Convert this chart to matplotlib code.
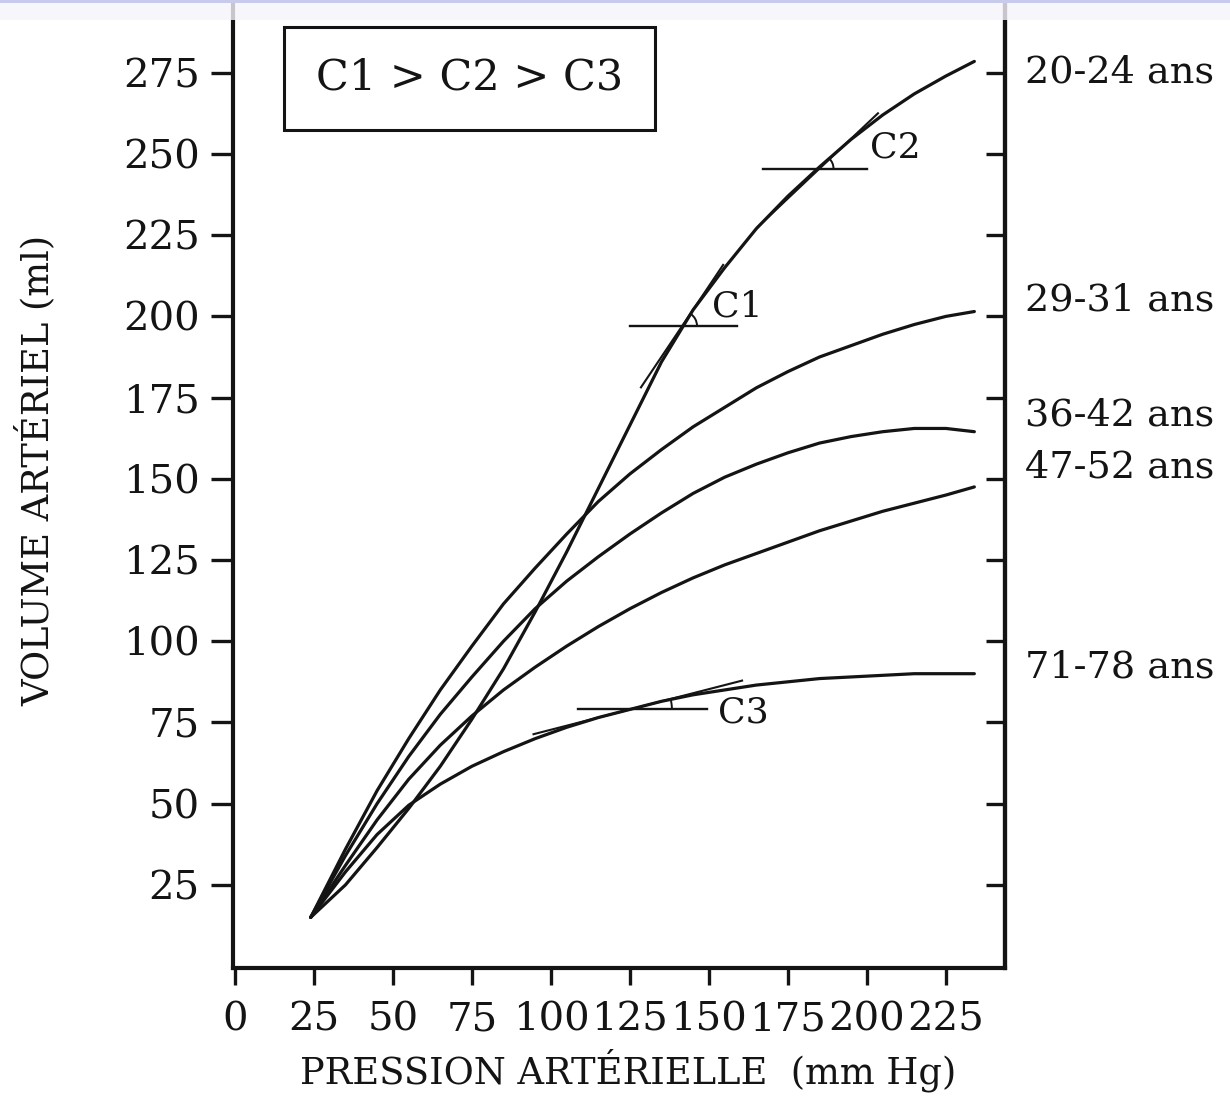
import numpy as np
import matplotlib
matplotlib.use('Agg')
import matplotlib.pyplot as plt
from matplotlib.patches import Arc, Rectangle

plt.rcParams['font.family'] = 'DejaVu Serif'

# pression (mm Hg) and volume (ml) for each age group
pression = [24, 35, 45, 55, 65, 75, 85, 95, 105, 115, 125, 135, 145, 155, 165, 175, 185, 195, 205, 215, 225, 234]
v_20_24 = [15, 25, 36.5, 48.5, 61.5, 76, 91.5, 109, 127.5, 147, 166.5, 186, 202, 215, 227, 237, 246, 254.5, 262, 268.5, 274, 278.5]
v_29_31 = [15, 36, 54, 70, 85, 98.5, 111.5, 122.5, 133, 143, 151.5, 159, 166, 172, 178, 183, 187.5, 191, 194.5, 197.5, 200, 201.5]
v_36_42 = [15, 34, 50, 64.5, 77.5, 89, 100, 110, 118.5, 126, 133, 139.5, 145.5, 150.5, 154.5, 158, 161, 163, 164.5, 165.5, 165.5, 164.5]
v_47_52 = [15, 31, 45, 57.5, 68, 77, 85, 92, 98.5, 104.5, 110, 115, 119.5, 123.5, 127, 130.5, 134, 137, 140, 142.5, 145, 147.5]
v_71_78 = [15, 29, 40.5, 49.5, 56, 61.5, 66, 70, 73.5, 76.5, 79, 81.5, 83.5, 85, 86.5, 87.5, 88.5, 89, 89.5, 90, 90, 90]

ages = ['20-24 ans', '29-31 ans', '36-42 ans', '47-52 ans', '71-78 ans']
age_label_y = [275, 205, 169.5, 153.5, 92]

# compliance tangents: name, point (x, y), slope, tangent x-range, horizontal x-range, label pos, arc radius px
C_names = ['C1', 'C2', 'C3']
C_points = [(141.5, 197), (185, 245.5), (125, 79)]
C_slopes = [1.45, 0.92, 0.25]
C_tangent_x = [(128.5, 154.5), (165.5, 203.5), (94.5, 160.5)]
C_horiz_x = [(125, 159), (167, 200), (108.5, 149.5)]
C_label_pos = [(159, 203), (209, 252), (161, 78)]
C_arc_r = [15, 14, 42]

ink = '#141414'
px_x = 3.16   # pixels per mm Hg
px_y = 3.248  # pixels per ml

fig = plt.figure(figsize=(12.3, 11.02), dpi=100)
ax = fig.add_axes([233 / 1230, 134 / 1102, 772 / 1230, 968 / 1102])

for v in [v_20_24, v_29_31, v_36_42, v_47_52, v_71_78]:
    ax.plot(pression, v, color=ink, lw=2.3, solid_capstyle='round', solid_joinstyle='round')

for name, (x0, y0), s, (ta, tb), (ha, hb), (lx, ly), r in zip(
        C_names, C_points, C_slopes, C_tangent_x, C_horiz_x, C_label_pos, C_arc_r):
    ax.plot([ta, tb], [y0 + s * (ta - x0), y0 + s * (tb - x0)], color=ink, lw=1.5)
    ax.plot([ha, hb], [y0, y0], color=ink, lw=1.7)
    ang = np.degrees(np.arctan(s * px_y / px_x))
    ax.add_patch(Arc((x0, y0), 2 * r / px_x, 2 * r / px_y, theta1=0, theta2=ang,
                     color=ink, lw=1.4))
    ax.text(lx, ly, name, fontsize=26, color=ink, ha='center', va='center')

# box with the compliance order
ax.add_patch(Rectangle((15.5, 257.4), 117.4, 31.7, fill=False, edgecolor=ink, lw=2.2, zorder=3))
ax.text(74.2, 273.4, 'C1 > C2 > C3', fontsize=31, color=ink, ha='center', va='center')

ax.set_xlim(-0.6, 243.7)
ax.set_ylim(-0.6, 297.4)
ax.set_xticks(range(0, 226, 25))
ax.set_yticks(range(25, 276, 25))

ax.spines['top'].set_visible(False)
for side in ['left', 'bottom', 'right']:
    ax.spines[side].set_linewidth(3)
    ax.spines[side].set_color(ink)

ax.tick_params(axis='x', direction='out', length=12, width=2.4, labelsize=29, pad=12, colors=ink)
ax.tick_params(axis='y', direction='out', length=16, width=2.4, labelsize=29, pad=8, colors=ink)

ax2 = ax.twinx()
ax2.set_ylim(ax.get_ylim())
ax2.set_yticks(range(25, 276, 25))
ax2.tick_params(axis='y', direction='in', length=14, width=2.4, labelright=False, colors=ink)
for side in ['top', 'left', 'bottom']:
    ax2.spines[side].set_visible(False)
ax2.spines['right'].set_linewidth(3)
ax2.spines['right'].set_color(ink)

for lab, y in zip(ages, age_label_y):
    ax.text(1.0 + 20 / 772, y, lab, transform=ax.get_yaxis_transform(), fontsize=27.5,
            color=ink, ha='left', va='center', clip_on=False)

ax.set_xlabel('PRESSION ARTÉRIELLE  (mm Hg)', fontsize=26.5, color=ink)
ax.xaxis.set_label_coords(0.512, -0.083)
ax.set_ylabel('VOLUME ARTÉRIEL (ml)', fontsize=26.5, color=ink)
ax.yaxis.set_label_coords(-0.228, 0.514)

# pale strip along the top edge
fig.patches.append(Rectangle((0, 1 - 20 / 1102), 1, 20 / 1102, transform=fig.transFigure,
                             facecolor='#f6f4fb', edgecolor='none', alpha=0.8, zorder=10))
fig.patches.append(Rectangle((0, 1 - 3 / 1102), 1, 3 / 1102, transform=fig.transFigure,
                             facecolor='#c9cbec', edgecolor='none', zorder=11))

fig.savefig('out.png', dpi=100)
